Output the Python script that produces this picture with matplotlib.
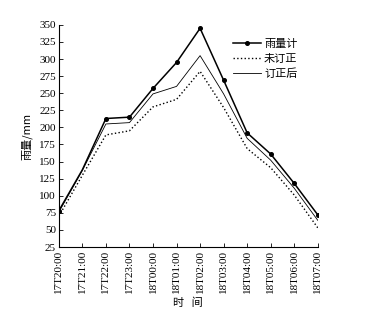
import matplotlib
matplotlib.use("Agg")
import matplotlib.pyplot as plt

plt.rcParams.update({
    "font.family": ["Liberation Serif", "Noto Sans CJK SC"],
    "font.size": 8,
    "axes.unicode_minus": False,
})

times = ["17T20:00", "17T21:00", "17T22:00", "17T23:00", "18T00:00", "18T01:00",
         "18T02:00", "18T03:00", "18T04:00", "18T05:00", "18T06:00", "18T07:00"]
gauge = [78, 138, 213, 215, 257, 295, 345, 269, 192, 161, 118, 72]
uncorrected = [70, 130, 189, 195, 230, 241, 282, 229, 169, 141, 101, 53]
corrected = [76, 137, 205, 207, 249, 260, 305, 249, 184, 152, 111, 64]
yticks = list(range(25, 351, 25))

fig = plt.figure(figsize=(3.77, 3.21), dpi=100)
ax = fig.add_axes([0.156, 0.2305, 0.687, 0.692])

x = list(range(len(times)))
# no dot printed at 17T21 in the source figure
marks = [i for i in x if i != 1]
ax.plot(x, gauge, "-", color="black", linewidth=1.1, marker="o", markersize=2.6,
        markevery=marks, label="雨量计")
ax.plot(x, uncorrected, ":", color="black", linewidth=1.0, label="未订正")
ax.plot(x, corrected, "-", color="black", linewidth=0.6, label="订正后")

ax.set_xlim(0, 11)
ax.set_ylim(25, 350)
ax.set_xticks(x)
ax.set_xticklabels(times, rotation=90)
ax.set_yticks(yticks)
ax.tick_params(direction="in", length=3, width=0.6, pad=2)
for s in ("top", "right"):
    ax.spines[s].set_visible(False)
for s in ("left", "bottom"):
    ax.spines[s].set_linewidth(0.8)

ax.set_xlabel("时   间", family=["Noto Sans CJK SC"], fontsize=8, labelpad=3)
ax.set_ylabel("雨量/mm", family=["Noto Sans CJK SC", "Liberation Serif"],
              fontsize=8, labelpad=5)

leg = ax.legend(loc="upper right", bbox_to_anchor=(0.93, 0.945), frameon=False,
                prop={"family": ["Noto Sans CJK SC"], "size": 8},
                handlelength=2.5, handletextpad=0.3, labelspacing=0.4,
                borderaxespad=0.0, borderpad=0.2)

fig.savefig("out.png", dpi=100)
